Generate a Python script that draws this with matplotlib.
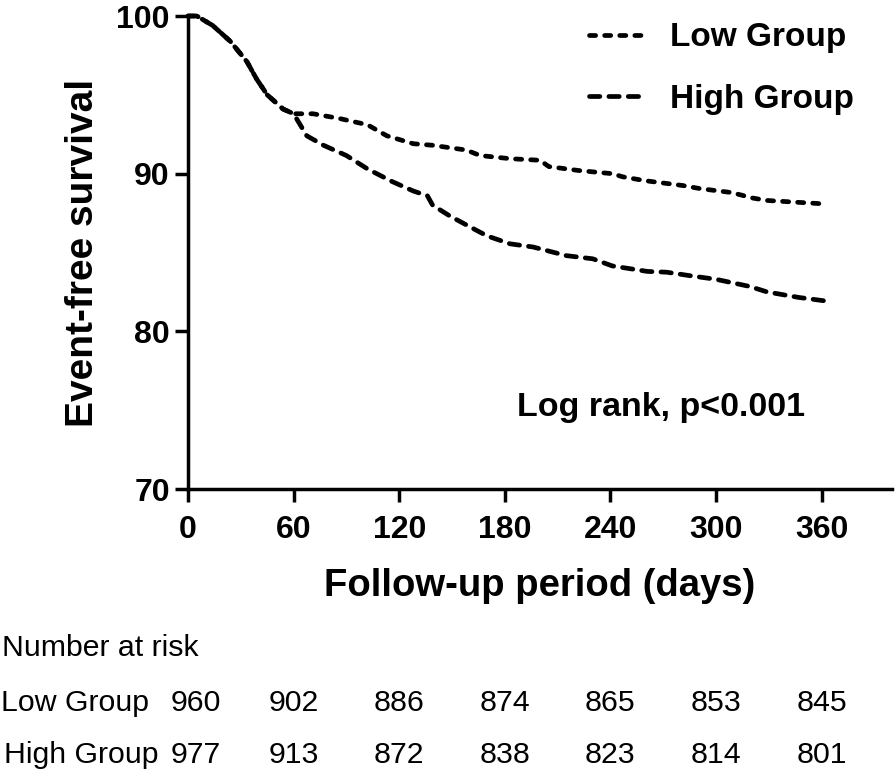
import matplotlib
matplotlib.use("Agg")
import matplotlib.pyplot as plt
import matplotlib.transforms as mtransforms

# ---- data ----
low_days = [0, 5, 14, 24, 33.5, 39, 45, 54, 60, 71, 86, 102, 113, 128, 139, 158, 166,
            183, 200, 205, 222, 241, 247, 260, 281, 291, 309, 321, 329, 359]
low_surv = [100, 100, 99.4, 98.4, 97.1, 96.0, 95.0, 94.1, 93.8, 93.8, 93.5, 93.1, 92.4,
            91.9, 91.8, 91.5, 91.15, 90.95, 90.85, 90.45, 90.2, 90.0, 89.8, 89.55, 89.25,
            89.05, 88.8, 88.45, 88.3, 88.1]
high_days = [0, 5, 14, 24, 33.5, 39, 45, 54, 60, 67.5, 77, 90, 102, 116, 128, 136, 139,
             149, 164, 170, 183, 196, 215, 230, 241, 261, 272, 287, 300, 319, 329, 347, 364]
high_surv = [100, 100, 99.4, 98.4, 97.1, 96.0, 95.0, 94.1, 93.8, 92.4, 91.8, 91.15, 90.3,
             89.5, 88.9, 88.6, 88.0, 87.3, 86.4, 86.05, 85.55, 85.35, 84.8, 84.6, 84.15,
             83.8, 83.75, 83.5, 83.3, 82.85, 82.5, 82.15, 81.9]
x_ticks = [0, 60, 120, 180, 240, 300, 360]
y_ticks = [70, 80, 90, 100]
risk_low = [960, 902, 886, 874, 865, 853, 845]
risk_high = [977, 913, 872, 838, 823, 814, 801]
group_names = ["Low Group", "High Group"]

FONT = "Liberation Sans"

fig = plt.figure(figsize=(8.96, 7.77), dpi=100)
ax = fig.add_axes([188 / 896, 1 - 489 / 777, 704 / 896, 473 / 777])

ax.plot(low_days, low_surv, color="black", lw=3.4, linestyle=(0, (1.3, 1.9)),
        dash_capstyle="round", label=group_names[0], clip_on=False)
ax.plot(high_days, high_surv, color="black", lw=3.4, linestyle=(0, (2.2, 1.9)),
        dash_capstyle="round", label=group_names[1], clip_on=False)

ax.set_xlim(0, 400)
ax.set_ylim(70, 100)
ax.set_xticks(x_ticks)
ax.set_yticks(y_ticks)
for s in ["top", "right"]:
    ax.spines[s].set_visible(False)
for s in ["left", "bottom"]:
    ax.spines[s].set_linewidth(2.5)
ax.tick_params(width=2.5, length=9.5, direction="out")
ax.tick_params(axis="x", pad=9)
ax.tick_params(axis="y", pad=3.5)
for lab in ax.get_xticklabels() + ax.get_yticklabels():
    lab.set_fontfamily(FONT)
    lab.set_fontweight("bold")
    lab.set_fontsize(23)

ax.set_xlabel("Follow-up period (days)", fontfamily=FONT, fontweight="bold",
              fontsize=27.5, labelpad=17)
ax.set_ylabel("Event-free survival", fontfamily=FONT, fontweight="bold",
              fontsize=28, labelpad=11)

ax.text(0.876, 0.173, "Log rank, p<0.001", transform=ax.transAxes, ha="right", va="center",
        fontfamily=FONT, fontweight="bold", fontsize=24.5)

leg = ax.legend(loc="upper right", bbox_to_anchor=(0.988, 1.05), frameon=False,
                handlelength=1.56, handletextpad=0.85, labelspacing=0.92,
                prop={"family": FONT, "weight": "bold", "size": 24})

# number at risk table
TS = 21.8
fig.text(2 / 896, 1 - 648 / 777, "Number at risk", ha="left", va="center",
         fontfamily=FONT, fontsize=TS)
row_y = [703, 755]
row_x = [1, 4]
for name, vals, yy, xx in zip(group_names, [risk_low, risk_high], row_y, row_x):
    yf = 1 - yy / 777
    fig.text(xx / 896, yf, name, ha="left", va="center", fontfamily=FONT, fontsize=TS)
    for i, (d, v) in enumerate(zip(x_ticks, vals)):
        tr = mtransforms.blended_transform_factory(ax.transData, fig.transFigure)
        if i == 0:
            tr = tr + mtransforms.ScaledTranslation(8 / 100, 0, fig.dpi_scale_trans)
        fig.text(d, yf, str(v), transform=tr, ha="center", va="center",
                 fontfamily=FONT, fontsize=TS)

fig.savefig("out.png", dpi=100)
